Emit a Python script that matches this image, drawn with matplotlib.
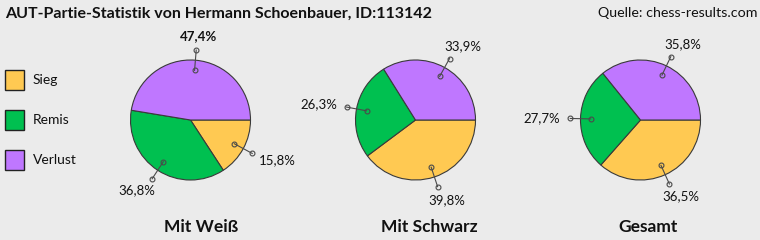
import numpy as np
import matplotlib
matplotlib.use('Agg')
import matplotlib.pyplot as plt
from matplotlib.patches import Rectangle

plt.rcParams['font.family'] = ['Lato', 'DejaVu Sans']

categories = ['Sieg', 'Remis', 'Verlust']
colors = ['#FFC952', '#00C050', '#BF77FF']
pie_titles = ['Mit Weiß', 'Mit Schwarz', 'Gesamt']
weiss = [15.8, 36.8, 47.4]
schwarz = [39.8, 26.3, 33.9]
gesamt = [36.5, 27.7, 35.8]
series = [weiss, schwarz, gesamt]
# the reference shows only this one label in bold
bold_labels = [[False, False, True], [False, False, False], [False, False, False]]

bg = '#EBEBEB'
W, H = 760, 240
fig = plt.figure(figsize=(7.6, 2.4), dpi=100, facecolor=bg)

# background axes in pixel coords for title, legend, captions
ax0 = fig.add_axes([0, 0, 1, 1])
ax0.set_xlim(0, W)
ax0.set_ylim(H, 0)
ax0.axis('off')

ax0.text(5, 14, 'AUT-Partie-Statistik von Hermann Schoenbauer, ID:113142',
         fontsize=11.5, fontweight='bold', va='center', ha='left', color='#111111')
ax0.text(757, 13, 'Quelle: chess-results.com', fontsize=10.3,
         va='center', ha='right', color='#111111')

for k, (cat, col) in enumerate(zip(categories, colors)):
    y = 70 + 40*k
    ax0.add_patch(Rectangle((5, y), 19, 20, facecolor=col, edgecolor='#222222', lw=1))
    ax0.text(33, y + 10, cat, fontsize=10, va='center', ha='left', color='#111111')

centers = [190.5, 415.5, 640.5]
title_x = [201, 429, 648]
for cx, tx, t in zip(centers, title_x, pie_titles):
    ax0.text(tx, 227, t, fontsize=12.5, fontweight='bold', va='center', ha='center',
             color='#111111')

r_px = 60.0
half = 2.0  # axes half-width in pie radii
for cx, vals, bolds in zip(centers, series, bold_labels):
    size = 2*half*r_px
    ax = fig.add_axes([(cx - size/2)/W, (H - 120 - size/2)/H, size/W, size/H])
    ax.patch.set_alpha(0)
    ax.pie(vals, colors=colors, startangle=0, counterclock=False, radius=1,
           wedgeprops=dict(edgecolor='#3A3A3A', linewidth=0.8))
    ax.set_xlim(-half, half)
    ax.set_ylim(-half, half)
    ax.set_aspect('equal')
    ax.axis('off')

    start = 0.0
    for v, b in zip(vals, bolds):
        mid = np.deg2rad(start - v*3.6/2)
        start -= v*3.6
        c, s = np.cos(mid), np.sin(mid)
        ax.plot([0.83*c, 1.17*c], [0.83*s, 1.17*s], color='#4A4A4A', lw=0.8,
                marker='o', ms=3.5, mfc='none', mec='#4A4A4A', mew=0.8)
        lx = 1.17*c + 0.47*c
        ly = 1.17*s + 0.23*s
        ax.text(lx, ly, ('%.1f%%' % v).replace('.', ','), fontsize=9.5,
                fontweight='bold' if b else 'normal',
                ha='center', va='center', color='#111111')

fig.savefig('out.png', dpi=100, facecolor=bg)
